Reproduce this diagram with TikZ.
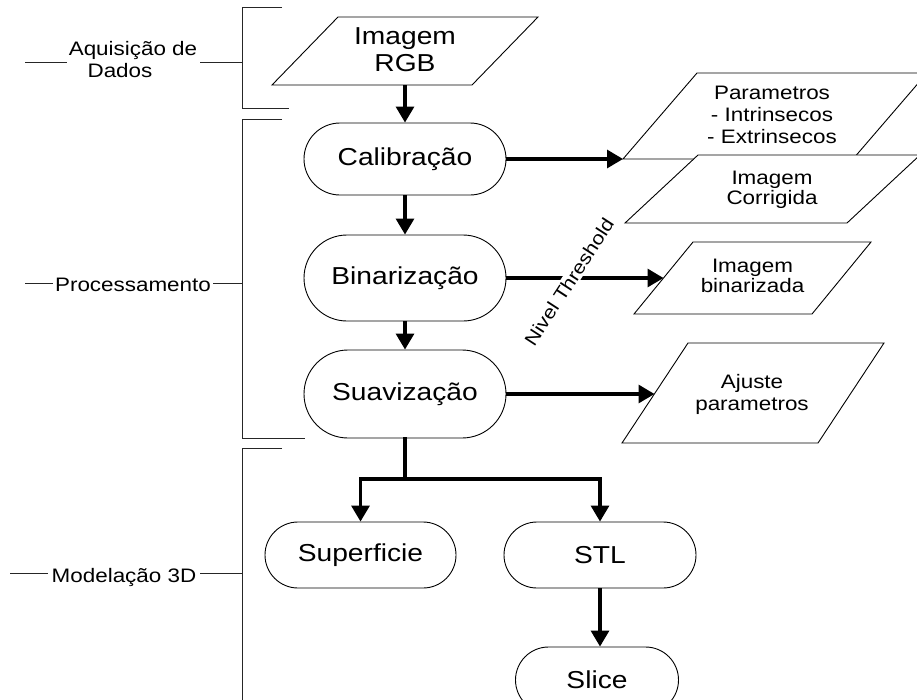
\documentclass[tikz,border=0pt]{standalone}
\usepackage{fontspec}
\setmainfont{Liberation Sans}[FakeStretch=1.15]
\usetikzlibrary{shapes.misc,arrows.meta}

\begin{document}
\begin{tikzpicture}[x=1pt,y=-1pt,
  rule/.style={line width=0.9pt, draw=black!85},
  iobox/.style={draw, line width=0.9pt, fill=white},
  term/.style={rounded rectangle, draw, line width=0.9pt, fill=white,
    inner sep=0pt, font=\fontsize{24.5}{27}\selectfont},
  big/.style={font=\fontsize{24.5}{27}\selectfont, inner sep=0pt},
  small/.style={font=\fontsize{19.5}{22}\selectfont, inner sep=0pt},
  tight/.style={font=\fontsize{19.5}{20}\selectfont, inner sep=0pt},
  trunk/.style={line width=3.2pt, line cap=rect},
  flow/.style={line width=3.2pt, -{Triangle[length=16pt,width=18pt]}},
]
\useasboundingbox (0,0) rectangle (917,699);
\clip (0,0) rectangle (917,699);

% ---- phase brackets on the left ----
\draw[rule] (282,7) -- (242,7) -- (242,108) -- (289,108);
\draw[rule] (25,62) -- (67,62);
\draw[rule] (200,62) -- (242,62);
\node[small, anchor=base] (aq1) at (133,55) {Aquisição de};
\node[small, anchor=base] (aq2) at (120,77) {Dados};

\draw[rule] (282,119) -- (242,119) -- (242,438) -- (305,438);
\draw[rule] (25,283) -- (53,283);
\draw[rule] (213,283) -- (242,283);
\node[small, anchor=base] (proc) at (133,291) {Processamento};

\draw[rule] (282,448) -- (242,448) -- (242,710);
\draw[rule] (10,573) -- (48,573);
\draw[rule] (200,573) -- (242,573);
\node[small, anchor=base] (mod) at (124,582) {Modelação 3D};

% ---- input / output parallelograms ----
\draw[iobox] (272,85) -- (472,85) -- (538,17) -- (338,17) -- cycle;
\node[big, align=center] (rgb) at (405,50) {Imagem\\RGB};
\coordinate (rgb-out) at (405,85);

\draw[iobox] (623,159) -- (853,159) -- (927,73) -- (697,73) -- cycle;
\node[small, align=center] (par) at (772,115) {Parametros\\- Intrinsecos\\- Extrinsecos};
\coordinate (par-in) at (623,159);

\draw[iobox] (625,223) -- (847,223) -- (920,155) -- (698,155) -- cycle;
\node[tight, align=center] (cor) at (772,190) {Imagem\\Corrigida};

\draw[iobox] (634,314) -- (812,314) -- (871,242) -- (693,242) -- cycle;
\node[tight, align=center] (binimg) at (752.5,276) {Imagem\\binarizada};
\coordinate (binimg-in) at (663.5,278);

\draw[iobox] (622,443) -- (818,443) -- (884,343) -- (688,343) -- cycle;
\node[small, align=center] (aju) at (752,394) {Ajuste\\parametros};
\coordinate (aju-in) at (654.5,394);

% ---- process steps ----
\node[term, minimum width=202pt, minimum height=72pt] (cal) at (405,159) {Calibração};
\node[term, minimum width=202pt, minimum height=86pt] (bin) at (405,278) {Binarização};
\node[term, minimum width=202pt, minimum height=88pt] (suav) at (405,394) {Suavização};
\node[term, minimum width=191pt, minimum height=66pt] (sup) at (360.5,555) {Superficie};
\node[term, minimum width=192pt, minimum height=66pt] (stl) at (600,555) {STL};
\node[term, minimum width=163pt, minimum height=66pt] (slice) at (597,680) {Slice};

% ---- flow ----
\draw[flow] (rgb-out) -- (cal.north);
\draw[flow] (cal.south) -- (bin.north);
\draw[flow] (bin.south) -- (suav.north);
\draw[flow] (cal.east) -- (par-in);
\draw[flow] (bin.east) -- (binimg-in);
\node[font=\fontsize{18.5}{20}\selectfont, fill=white, inner sep=1.5pt, rotate=57]
  (thr) at (569,282) {Nivel Threshold};
\draw[flow] (suav.east) -- (aju-in);

\coordinate (split) at (405,479);
\draw[trunk] (suav.south) -- (split);
\draw[flow] (split) -| (sup.north);
\draw[flow] (split) -| (stl.north);
\draw[flow] (stl.south) -- (stl.south |- slice.north);
\end{tikzpicture}
\end{document}
